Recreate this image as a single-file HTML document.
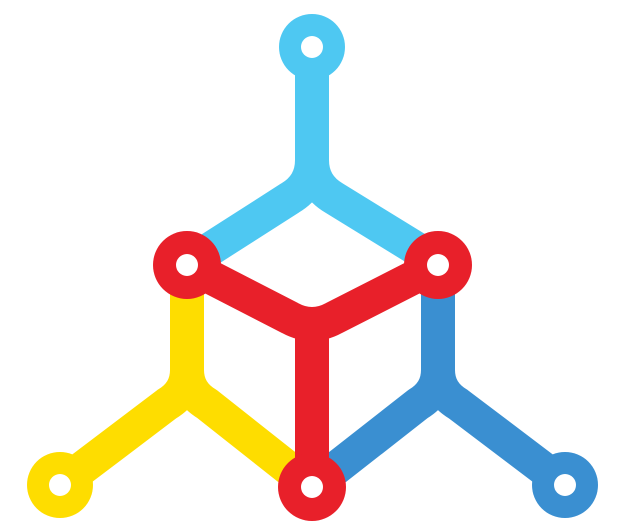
<!DOCTYPE html>
<html><head><meta charset="utf-8"><style>
html,body{margin:0;padding:0;background:#fff;width:638px;height:530px;overflow:hidden}
svg{display:block}
</style></head><body>
<svg width="638" height="530" viewBox="0 0 638 530">
<g fill="none" stroke-linecap="round" stroke-linejoin="round" stroke-width="34">
<path stroke="#4EC8F2" d="M312,47 L312,160 Q312,185 290,198 L190,262 M312,160 Q312,185 334,198 L438,262"/>
<path stroke="#FEDD00" d="M187,265 L187,370 Q187,392 167,404 L60,485 M187,370 Q187,392 207,404 L312,487"/>
<path stroke="#3A8FD1" d="M438,265 L438,370 Q438,392 458,404 L565,485 M438,370 Q438,392 418,404 L312,487"/>
<path stroke="#E8202A" d="M187,265 L290,318 Q312,330 334,318 L438,265 M312,325 L312,487"/>
</g>
<circle cx="312" cy="47" r="33" fill="#4EC8F2"/>
<circle cx="60" cy="485" r="33" fill="#FEDD00"/>
<circle cx="565" cy="485" r="33" fill="#3A8FD1"/>
<circle cx="187" cy="265" r="34" fill="#E8202A"/>
<circle cx="438" cy="265" r="34" fill="#E8202A"/>
<circle cx="312" cy="487" r="34" fill="#E8202A"/>
<g fill="#fff">
<circle cx="312" cy="47" r="11"/>
<circle cx="60" cy="485" r="11"/>
<circle cx="565" cy="485" r="11"/>
<circle cx="187" cy="265" r="11"/>
<circle cx="438" cy="265" r="11"/>
<circle cx="312" cy="487" r="11"/>
</g>
</svg>
</body></html>
